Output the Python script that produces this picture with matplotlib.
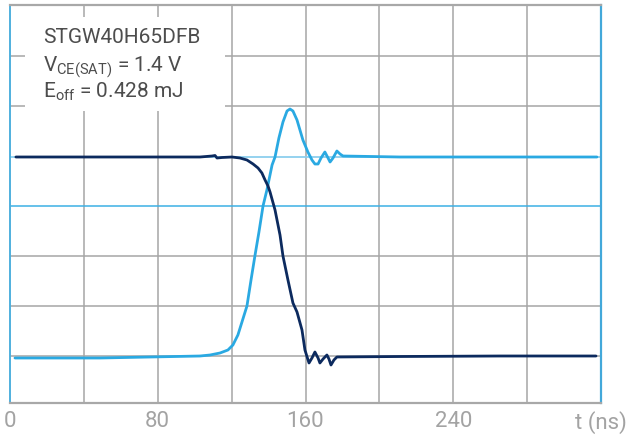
import matplotlib.pyplot as plt
import matplotlib.patches as patches

plt.rcParams['font.family'] = ['Roboto', 'DejaVu Sans']
plt.rcParams['mathtext.fontset'] = 'custom'
plt.rcParams['mathtext.rm'] = 'Roboto'

# traces: time in ns, level in grid divisions
vce_t = [3.2, 48.7, 102.9, 109.4, 111.0, 112.1, 114.8, 120.2, 124.5, 128.3, 131.6,
         134.3, 136.4, 138.1, 139.7, 140.8, 143.5, 146.2, 147.8, 150.5, 153.2, 155.4,
         158.1, 159.7, 161.9, 163.5, 165.1, 166.8, 167.8, 169.5, 171.6, 172.7, 173.8,
         175.4, 177.0, 211.2, 265.3, 317.3]
vce_v = [4.98, 4.98, 4.98, 5.0, 5.01, 4.96, 4.97, 4.98, 4.96, 4.92, 4.84,
         4.76, 4.66, 4.52, 4.40, 4.28, 3.92, 3.42, 3.0, 2.52, 2.06, 1.88,
         1.52, 1.12, 0.86, 0.96, 1.08, 0.96, 0.86, 0.94, 1.02, 0.94, 0.82,
         0.92, 0.98, 0.99, 1.0, 1.0]

ic_t = [2.7, 48.7, 75.8, 102.9, 108.3, 113.7, 118.0, 120.7, 123.4, 125.6, 128.3,
        130.5, 132.6, 134.8, 137.0, 139.1, 141.9, 143.5, 145.6, 147.8, 150.0, 151.6,
        153.2, 155.4, 158.6, 161.3, 163.5, 165.1, 166.8, 168.4, 170.5, 172.2, 173.3,
        174.9, 177.0, 178.7, 180.3, 211.0, 317.8]
ic_v = [0.96, 0.96, 0.98, 1.0, 1.02, 1.06, 1.12, 1.22, 1.42, 1.68, 2.0,
        2.52, 3.0, 3.48, 4.0, 4.32, 4.82, 4.98, 5.36, 5.68, 5.9, 5.94,
        5.9, 5.72, 5.32, 5.08, 4.92, 4.84, 4.84, 4.96, 5.08, 4.96, 4.88,
        4.96, 5.1, 5.04, 5.0, 4.98, 4.98]

x_ticks = [0, 80, 160, 240, 320]
x_labels = ['0', '80', '160', '240', 't (ns)']

fig = plt.figure(figsize=(6.28, 4.4), dpi=100)
ax = fig.add_axes([10 / 628, 1 - 403 / 440, 591 / 628, 398 / 440])
ax.set_xlim(0, 320)
ax.set_ylim(0.06, 8.02)

grid_c = '#a6a6a6'
for xv in range(40, 320, 40):
    ax.axvline(xv, color=grid_c, lw=1.1, zorder=1)
for yv in [1, 2, 3, 6, 7]:
    ax.axhline(yv, color=grid_c, lw=1.1, zorder=1)
ax.axhline(4.98, color='#8ccfee', lw=1.3, zorder=1)
ax.axhline(4, color='#3cb0e4', lw=1.1, zorder=1)

# white label box covering the grid
ax.add_patch(patches.Rectangle((15 / 591, (403 - 111) / 398), 200 / 591, 94 / 398,
                               transform=ax.transAxes, facecolor='white',
                               edgecolor='none', zorder=2))

ax.plot(vce_t, vce_v, color='#0c2a5e', lw=2.0, zorder=4, solid_capstyle='round')
ax.plot(ic_t, ic_v, color='#2aa9e2', lw=2.0, zorder=3, solid_capstyle='round')

for side in ['top', 'bottom']:
    ax.spines[side].set_color('#a8a8a8')
    ax.spines[side].set_linewidth(1.6)
ax.spines['left'].set_color('#4fb0de')
ax.spines['right'].set_color('#42a8da')
ax.spines['left'].set_linewidth(1.4)
ax.spines['right'].set_linewidth(1.6)

ax.set_xticks(x_ticks)
ax.set_xticklabels(x_labels)
ax.set_yticks([])
ax.tick_params(axis='x', length=0, pad=6, labelsize=16, labelcolor='#a3a3a3')

txt_c = '#4d4d4d'
fig.text(43 / 628, 1 - 43 / 440, 'STGW40H65DFB', fontsize=15, color=txt_c, va='baseline')
fig.text(43 / 628, 1 - 71 / 440, r'V$\mathregular{_{CE(SAT)}}$ = 1.4 V', fontsize=15,
         color=txt_c, va='baseline')
fig.text(43 / 628, 1 - 98 / 440, r'E$\mathregular{_{off}}$ = 0.428 mJ', fontsize=15,
         color=txt_c, va='baseline')

fig.savefig('out.png', dpi=100)
